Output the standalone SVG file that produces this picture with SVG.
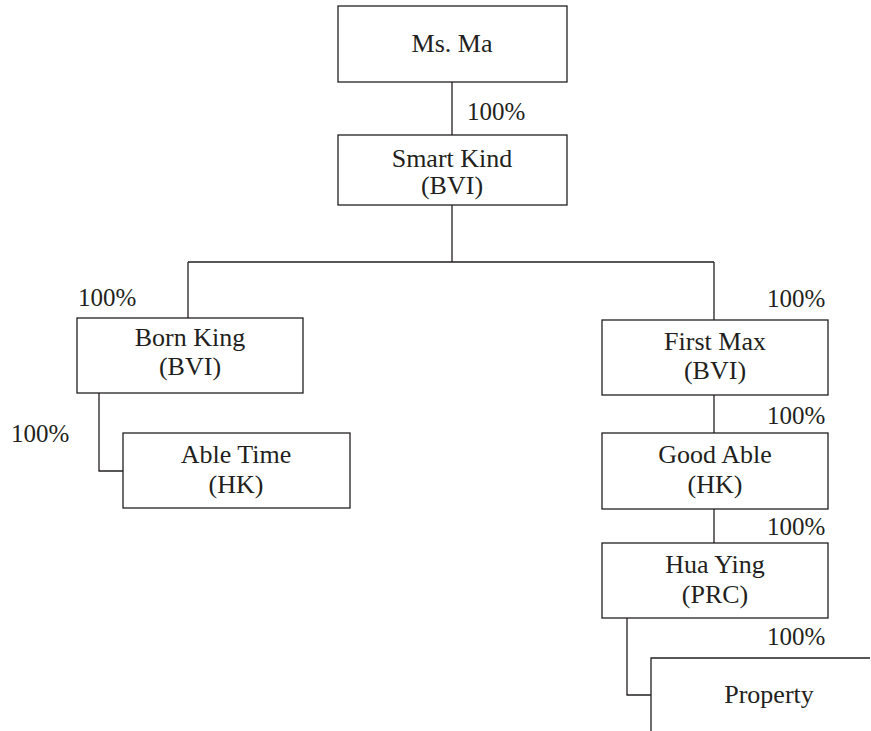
<svg xmlns="http://www.w3.org/2000/svg" width="871" height="731" viewBox="0 0 871 731">
<style>
.box{fill:#fff;stroke:#231f20;stroke-width:1.3}
.ln{fill:none;stroke:#231f20;stroke-width:1.3}
text{font-family:"Liberation Serif","Times New Roman",serif;font-size:26px;fill:#231f20}
.c{text-anchor:middle}
.p{font-size:25px}
</style>
<rect width="871" height="731" fill="#fff"/>
<g id="connectors">
<path class="ln" d="M452 82V135"/>
<path class="ln" d="M452 205V262M188 262H714M188 262V318M714 262V320"/>
<path class="ln" d="M99 393V471H123"/>
<path class="ln" d="M714 395V433M714 509V543"/>
<path class="ln" d="M627 618V695H651"/>
<text class="p" x="467" y="120">100%</text>
<text class="p" x="78" y="306">100%</text>
<text class="p" x="767" y="307">100%</text>
<text class="p" x="11" y="442">100%</text>
<text class="p" x="767" y="424">100%</text>
<text class="p" x="767" y="535">100%</text>
<text class="p" x="767" y="645">100%</text>
</g>
<g id="ms-ma"><rect class="box" x="338" y="6" width="229" height="76"/><text class="c" x="452" y="52">Ms. Ma</text></g>
<g id="smart-kind"><rect class="box" x="338" y="135" width="229" height="70"/><text class="c" x="452" y="167">Smart Kind</text><text class="c" x="452" y="194">(BVI)</text></g>
<g id="born-king"><rect class="box" x="77" y="318" width="226" height="75"/><text class="c" x="190" y="346">Born King</text><text class="c" x="190" y="375">(BVI)</text></g>
<g id="able-time"><rect class="box" x="123" y="433" width="227" height="75"/><text class="c" x="236" y="463">Able Time</text><text class="c" x="236" y="493">(HK)</text></g>
<g id="first-max"><rect class="box" x="602" y="320" width="226" height="75"/><text class="c" x="715" y="350">First Max</text><text class="c" x="715" y="379">(BVI)</text></g>
<g id="good-able"><rect class="box" x="602" y="433" width="226" height="76"/><text class="c" x="715" y="463">Good Able</text><text class="c" x="715" y="493">(HK)</text></g>
<g id="hua-ying"><rect class="box" x="602" y="543" width="226" height="75"/><text class="c" x="715" y="573">Hua Ying</text><text class="c" x="715" y="603">(PRC)</text></g>
<g id="property"><path class="ln" d="M870 658H651V731"/><text class="c" x="769" y="703">Property</text></g>
</svg>
